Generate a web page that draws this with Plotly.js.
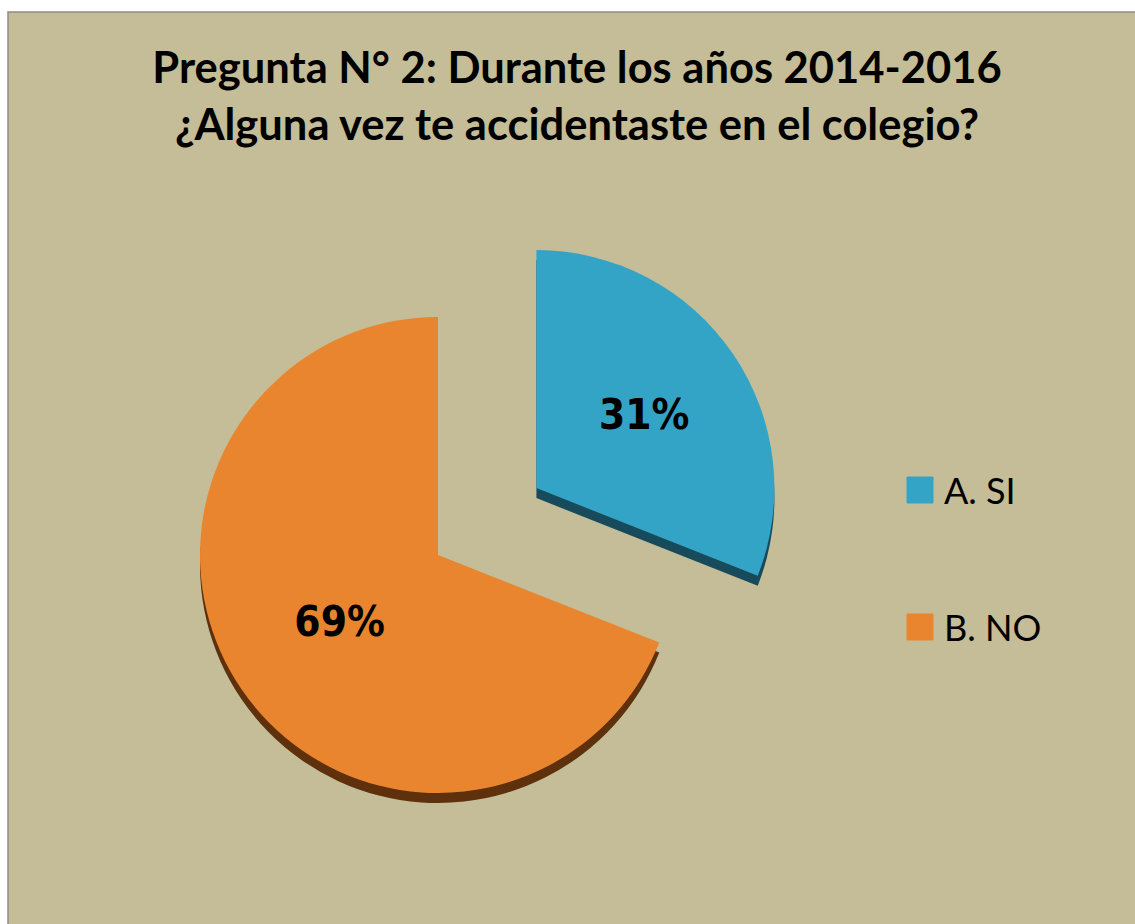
<!DOCTYPE html>
<html>
<head>
<meta charset="utf-8">
<script src="https://cdn.plot.ly/plotly-3.0.1.min.js"></script>
<style>html,body{margin:0;padding:0;background:#fff;}#chart{width:1135px;height:924px;}</style>
</head>
<body>
<div id="chart"></div>
<script>
const titleLines = ['Pregunta N° 2: Durante los años 2014-2016', '¿Alguna vez te accidentaste en el colegio?'];
const labels = ['A. SI', 'B. NO'];
const values = [31, 69];
const colors = ['#34a4c6', '#e9852f'];
const sideColors = ['#174b5c', '#5e300c'];
const pulls = [0.5, 0];

const W = 1135, H = 924;
const px = x => x / W;
const py = y => 1 - y / H;

// legend built from the data arrays
const legendY = [490, 627];
const shapes = [{
  type: 'rect', xref: 'paper', yref: 'paper', layer: 'below',
  x0: px(8), x1: 1.01, y0: -0.01, y1: py(12),
  fillcolor: '#c4bd97', line: {color: '#8c8c8c', width: 1.5}
}];
const annotations = [];
labels.forEach((lab, i) => {
  shapes.push({
    type: 'rect', xref: 'paper', yref: 'paper', layer: 'above',
    x0: px(907), x1: px(933), y0: py(legendY[i] + 13), y1: py(legendY[i] - 13),
    fillcolor: colors[i], line: {color: colors[i], width: 1}
  });
  annotations.push({
    xref: 'paper', yref: 'paper', x: px(942), y: py(legendY[i]),
    xanchor: 'left', yanchor: 'middle', showarrow: false, text: lab,
    font: {family: 'Lato, "Open Sans", sans-serif', size: 36, color: '#000'}
  });
});

const common = {
  type: 'pie',
  labels: labels,
  values: values,
  pull: pulls,
  sort: false,
  direction: 'clockwise',
  rotation: 0,
  showlegend: false,
  domain: {x: [px(81), px(795)]}
};

const data = [
  // darker copy slightly lower: the 3D side of the slices
  Object.assign({}, common, {
    marker: {colors: sideColors, line: {width: 0}},
    textinfo: 'none',
    hoverinfo: 'skip',
    domain: {x: common.domain.x, y: [py(922), py(208)]}
  }),
  Object.assign({}, common, {
    marker: {colors: colors, line: {width: 0}},
    textinfo: 'percent',
    textposition: 'inside',
    insidetextorientation: 'horizontal',
    textfont: {family: '"DejaVu Sans Condensed", "DejaVu Sans", sans-serif', size: 42, color: '#000', weight: 'bold'},
    hoverinfo: 'label+percent',
    domain: {x: common.domain.x, y: [py(912), py(198)]}
  })
];

const layout = {
  width: W, height: H,
  margin: {l: 0, r: 0, t: 0, b: 0},
  paper_bgcolor: '#ffffff',
  showlegend: false,
  title: {
    text: titleLines.join('<br>'),
    font: {family: 'Lato, "Open Sans", sans-serif', size: 43.5, color: '#000', weight: 'bold'},
    x: px(577), xanchor: 'center', xref: 'paper',
    y: py(83), yanchor: 'middle', yref: 'paper'
  },
  shapes: shapes,
  annotations: annotations
};

Plotly.newPlot('chart', data, layout, {displayModeBar: false, staticPlot: true});
</script>
</body>
</html>
